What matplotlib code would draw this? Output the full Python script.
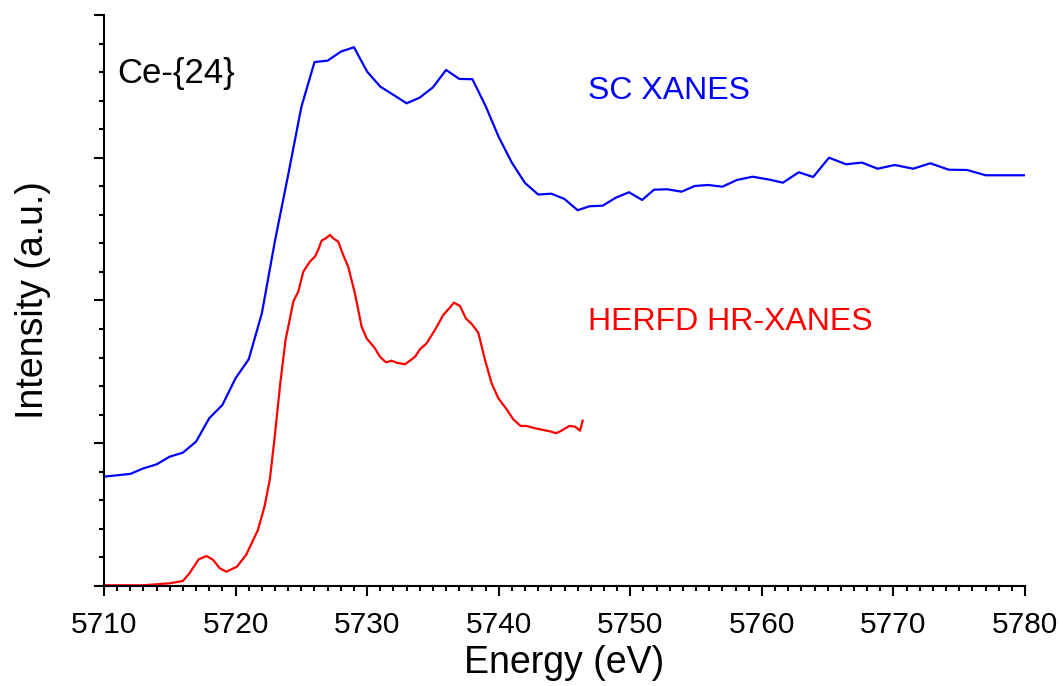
import matplotlib
matplotlib.use('Agg')
import matplotlib.pyplot as plt
from matplotlib.ticker import MultipleLocator, NullFormatter

plt.rcParams['font.family'] = ['Liberation Sans', 'DejaVu Sans']

# SC XANES (blue), energy in eV and intensity in arbitrary units
sc_energy = [5710.0, 5712.0, 5713.0, 5714.0, 5715.0, 5716.0, 5717.0, 5718.0, 5719.0,
             5720.0, 5721.0, 5722.0, 5723.0, 5724.0, 5725.0, 5726.0, 5727.0, 5728.0,
             5729.0, 5730.0, 5731.0, 5732.0, 5733.0, 5734.0, 5735.0, 5736.0, 5737.0,
             5738.0, 5739.0, 5740.0, 5741.0, 5742.0, 5743.0, 5744.0, 5745.0, 5746.0,
             5746.9, 5747.9, 5748.9, 5749.9, 5750.9, 5751.8, 5752.8, 5753.9, 5754.9,
             5755.9, 5757.0, 5758.1, 5759.3, 5760.6, 5761.6, 5762.8, 5763.9, 5765.1,
             5766.4, 5767.6, 5768.8, 5770.1, 5771.5, 5772.8, 5774.2, 5775.6, 5777.0,
             5779.4, 5780.0]
sc_intensity = [0.766, 0.785, 0.824, 0.852, 0.906, 0.934, 1.011, 1.175, 1.268,
                1.455, 1.588, 1.910, 2.42, 2.88, 3.355, 3.670, 3.680, 3.743,
                3.774, 3.603, 3.498, 3.440, 3.381, 3.421, 3.493, 3.615, 3.552,
                3.550, 3.363, 3.145, 2.965, 2.823, 2.742, 2.748, 2.711, 2.632,
                2.660, 2.664, 2.720, 2.758, 2.704, 2.776, 2.779, 2.762, 2.802,
                2.809, 2.797, 2.844, 2.867, 2.846, 2.825, 2.898, 2.865, 3.000,
                2.954, 2.966, 2.923, 2.949, 2.923, 2.961, 2.916, 2.914, 2.877,
                2.877, 2.877]

# HERFD HR-XANES (red)
herfd_energy = [5710.0, 5713.0, 5714.0, 5715.0, 5716.0, 5716.5, 5717.2, 5717.8, 5718.3,
                5718.8, 5719.3, 5720.1, 5720.8, 5721.7, 5722.2, 5722.6, 5722.95, 5723.4,
                5723.8, 5724.4, 5724.77, 5725.15, 5725.65, 5726.03, 5726.28, 5726.54,
                5726.87, 5727.17, 5727.42, 5727.8, 5728.18, 5728.56, 5729.07, 5729.58,
                5729.96, 5730.59, 5730.97, 5731.43, 5731.86, 5732.24, 5732.87, 5733.25,
                5733.64, 5734.02, 5734.52, 5735.15, 5735.78, 5736.24, 5736.6, 5737.06,
                5737.5, 5737.95, 5738.45, 5738.96, 5739.46, 5739.97, 5740.6, 5741.1,
                5741.66, 5742.1, 5742.75, 5743.38, 5744.0, 5744.35, 5744.78, 5745.36,
                5745.8, 5746.18, 5746.38]
herfd_intensity = [0.005, 0.005, 0.012, 0.019, 0.035, 0.089, 0.187, 0.210, 0.182,
                   0.124, 0.100, 0.135, 0.217, 0.392, 0.556, 0.743, 1.023, 1.420,
                   1.723, 1.995, 2.062, 2.202, 2.272, 2.307, 2.354, 2.419,
                   2.436, 2.459, 2.436, 2.412, 2.319, 2.237, 2.050, 1.817,
                   1.735, 1.665, 1.606, 1.567, 1.578, 1.564, 1.553, 1.578,
                   1.606, 1.658, 1.700, 1.793, 1.898, 1.945, 1.985, 1.961,
                   1.875, 1.835, 1.774, 1.583, 1.420, 1.315, 1.238, 1.168,
                   1.121, 1.121, 1.105, 1.093, 1.081, 1.070, 1.088, 1.121,
                   1.116, 1.088, 1.158]

fig = plt.figure(figsize=(10.63, 6.86), dpi=100)
ax = fig.add_axes([0.0978, 0.1458, 0.8665, 0.8324])

ax.plot(sc_energy, sc_intensity, color='#0000ff', lw=1.6)
ax.plot(herfd_energy, herfd_intensity, color='#ff0000', lw=1.6)

ax.set_xlim(5710, 5780)
ax.set_ylim(0, 4)

ax.xaxis.set_major_locator(MultipleLocator(10))
ax.xaxis.set_minor_locator(MultipleLocator(1))
ax.yaxis.set_major_locator(MultipleLocator(1))
ax.yaxis.set_minor_locator(MultipleLocator(0.2))
ax.yaxis.set_major_formatter(NullFormatter())

for side in ['top', 'right']:
    ax.spines[side].set_visible(False)
for side in ['left', 'bottom']:
    ax.spines[side].set_linewidth(1.5)

ax.tick_params(which='major', direction='out', length=7, width=1.5, labelsize=21.5, pad=11)
ax.tick_params(which='minor', direction='out', length=3.5, width=1.5)

ax.set_xlabel('Energy (eV)', fontsize=27, labelpad=4)
ax.set_ylabel('Intensity (a.u.)', fontsize=27, labelpad=20)

ax.text(5711.0, 3.524, 'Ce-{24}', fontsize=25, va='baseline', ha='left')
ax.text(5746.8, 3.41, 'SC XANES', fontsize=23, color='#0000ff', va='baseline', ha='left')
ax.text(5746.8, 1.793, 'HERFD HR-XANES', fontsize=23, color='#ff0000', va='baseline', ha='left')

fig.savefig('out.png', dpi=100)
